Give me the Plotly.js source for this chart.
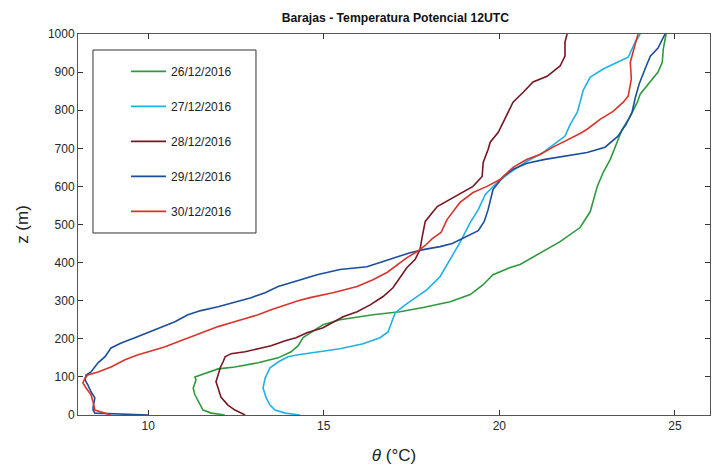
<!DOCTYPE html>
<html>
<head>
<meta charset="utf-8">
<script src="https://cdn.plot.ly/plotly-3.0.1.min.js"></script>
<style>html,body{margin:0;padding:0;background:#fff;}#chart{width:715px;height:472px;}</style>
</head>
<body>
<div id="chart"></div>
<script>
// Heights (m) and potential temperature (°C) for each sounding
const z26 = [0,5,13,26,53,71,92,100,110,121,126,137,150,166,182,203,237,250,263,271,282,297,316,342,368,387,395,426,455,492,534,600,637,671,705,750,784,821,842,874,900,926,961,1000];
const t26 = [12.18,11.8,11.56,11.48,11.33,11.28,11.36,11.33,11.62,11.99,12.47,13.13,13.7,14.07,14.27,14.41,14.98,15.46,16.4,17.17,17.83,18.6,19.17,19.54,19.82,20.31,20.59,21.16,21.73,22.3,22.59,22.79,22.96,23.16,23.3,23.5,23.73,23.93,24.01,24.3,24.52,24.64,24.67,24.75];

const z27 = [0,5,13,26,45,71,97,124,139,153,158,166,174,187,203,218,245,268,289,329,363,408,453,505,539,579,605,637,666,689,716,732,763,795,821,853,887,908,926,939,961,979,1000];
const t27 = [14.32,13.9,13.61,13.47,13.36,13.27,13.33,13.47,13.7,13.98,14.27,14.81,15.46,16.12,16.6,16.83,16.95,17.03,17.32,17.94,18.31,18.6,18.88,19.17,19.4,19.6,19.88,20.31,20.79,21.25,21.65,21.87,22.02,22.22,22.3,22.39,22.59,22.96,23.36,23.67,23.78,23.87,24.01];

const z28 = [0,13,26,47,71,87,105,124,139,153,161,166,174,182,195,203,216,229,258,271,289,311,334,361,387,408,434,466,508,547,566,579,600,626,663,697,716,742,768,795,821,847,874,889,916,942,979,1000];
const t28 = [12.76,12.47,12.27,12.07,11.99,11.93,11.99,12.05,12.13,12.19,12.36,12.76,13.13,13.5,13.9,14.21,14.52,14.98,15.55,15.95,16.32,16.69,16.97,17.17,17.37,17.6,17.74,17.8,17.89,18.23,18.6,18.88,19.25,19.51,19.54,19.68,19.74,19.97,20.11,20.25,20.39,20.68,20.96,21.36,21.73,21.87,21.87,21.93];

const z29 = [0,3,5,13,21,45,61,79,92,105,113,137,153,176,189,203,216,229,245,263,274,284,297,308,321,337,353,368,382,389,403,416,426,434,442,450,466,484,508,539,592,626,645,661,671,679,689,703,732,763,795,832,868,908,942,963,987,1000];
const t29 = [10.0,9.2,8.48,8.43,8.43,8.48,8.37,8.28,8.2,8.23,8.37,8.57,8.77,8.94,9.23,9.62,9.99,10.36,10.76,11.13,11.5,11.99,12.47,12.93,13.33,13.7,14.27,14.81,15.46,16.23,16.69,17.09,17.46,17.83,18.31,18.66,19.03,19.4,19.57,19.68,19.82,20.11,20.39,20.79,21.3,21.82,22.5,23.01,23.38,23.61,23.78,23.87,23.98,24.15,24.3,24.52,24.64,24.72];

const z30 = [0,8,13,34,53,71,84,97,105,113,126,145,158,168,179,192,205,221,232,242,253,263,276,289,300,308,321,337,355,374,395,413,429,445,463,479,513,558,584,600,618,650,671,684,703,721,739,750,776,797,821,837,882,926,961,979,1000];
const t30 = [8.94,8.66,8.48,8.43,8.37,8.23,8.14,8.2,8.28,8.57,8.94,9.34,9.71,10.08,10.48,10.85,11.22,11.62,11.99,12.36,12.76,13.13,13.5,13.9,14.27,14.61,15.26,15.95,16.4,16.8,17.09,17.37,17.66,17.89,18.09,18.34,18.51,18.88,19.25,19.65,20.02,20.39,20.79,21.16,21.53,21.93,22.3,22.5,22.87,23.24,23.53,23.67,23.76,23.73,23.84,23.9,23.95];

const dates = ['26/12/2016','27/12/2016','28/12/2016','29/12/2016','30/12/2016'];
const colors = ['#2e9a3c','#22b0e2','#761722','#1b4f9c','#d9342b'];
const tickVals = [10,15,20,25];
const yTickVals = [0,100,200,300,400,500,600,700,800,900,1000];

const series = [[t26,z26],[t27,z27],[t28,z28],[t29,z29],[t30,z30]];
const traces = series.map((s,i)=>({
  x: s[0], y: s[1], type:'scatter', mode:'lines', name: dates[i],
  line:{color:colors[i], width:1.6}, legendgroup:'g'+i
}));

const layout = {
  width:715, height:472,
  margin:{l:78, r:5, t:34, b:57},
  paper_bgcolor:'#fff', plot_bgcolor:'#fff',
  font:{family:'Liberation Sans, Arial, sans-serif', color:'#262626', size:12},
  title:{text:'<b>Barajas - Temperatura Potencial 12UTC</b>', x:0.553, xanchor:'center', y:0.962, yref:'container', yanchor:'middle', font:{size:12.2, color:'#111'}},
  xaxis:{range:[8,26], tickvals:tickVals, ticks:'inside', ticklen:5, tickcolor:'#333', showline:true, linecolor:'#555', linewidth:1, mirror:'ticks', showgrid:false, zeroline:false,
    tickfont:{size:12}, title:{text:'<i>θ</i> (°C)', font:{size:17, color:'#222'}, standoff:16}},
  yaxis:{range:[0,1000], tickvals:yTickVals, ticks:'inside', ticklen:5, tickcolor:'#333', showline:true, linecolor:'#555', linewidth:1, mirror:'ticks', showgrid:false, zeroline:false,
    tickfont:{size:12}, title:{text:'z (m)', font:{size:17, color:'#222'}, standoff:14}},
  showlegend:true,
  legend:{x:0.076, y:0.94, xanchor:'left', yanchor:'top', borderwidth:0, bgcolor:'rgba(0,0,0,0)',
    font:{size:12, color:'#222'}, itemwidth:35, traceorder:'grouped', tracegroupgap:16},
  shapes:[{type:'rect', xref:'paper', yref:'paper', x0:0.0237, x1:0.2816, y0:0.4777, y1:0.958,
    line:{color:'#333', width:1}, fillcolor:'rgba(255,255,255,0)', layer:'above'}]
};
Plotly.newPlot('chart', traces, layout, {displayModeBar:false, staticPlot:true});
</script>
</body>
</html>
